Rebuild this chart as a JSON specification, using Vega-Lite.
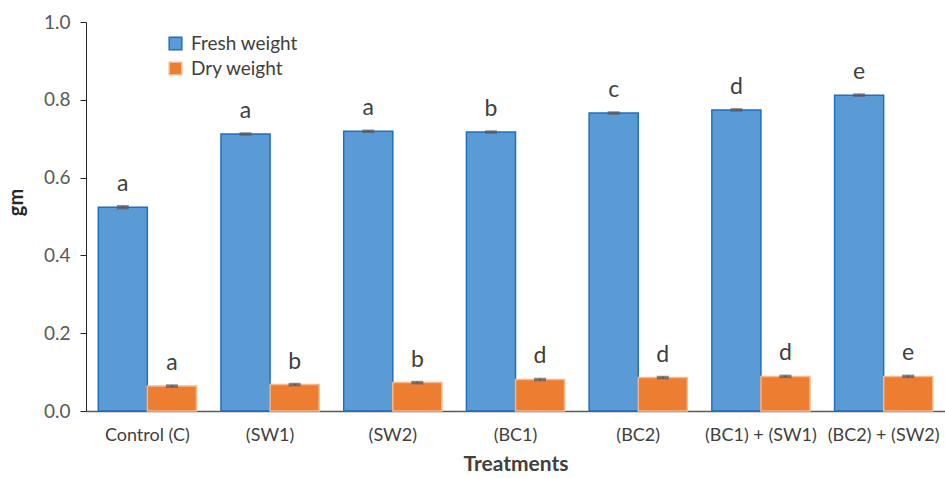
{
  "$schema": "https://vega.github.io/schema/vega-lite/v6.json",
  "width": 859,
  "height": 389,
  "autosize": {"type": "none"},
  "padding": {"left": 86, "top": 22, "right": 0, "bottom": 67},
  "background": "white",
  "config": {
    "font": "Lato",
    "view": {"stroke": null},
    "axis": {"labelFont": "Lato", "titleFont": "Lato", "labelColor": "#404040", "titleColor": "#404040"}
  },
  "data": {
    "values": [
      {"treatment": "Control (C)", "type": "Fresh weight", "value": 0.524, "low": 0.521, "high": 0.527, "letter": "a"},
      {"treatment": "Control (C)", "type": "Dry weight", "value": 0.064, "low": 0.062, "high": 0.066, "letter": "a"},
      {"treatment": "(SW1)", "type": "Fresh weight", "value": 0.712, "low": 0.710, "high": 0.714, "letter": "a"},
      {"treatment": "(SW1)", "type": "Dry weight", "value": 0.068, "low": 0.066, "high": 0.070, "letter": "b"},
      {"treatment": "(SW2)", "type": "Fresh weight", "value": 0.719, "low": 0.717, "high": 0.721, "letter": "a"},
      {"treatment": "(SW2)", "type": "Dry weight", "value": 0.073, "low": 0.071, "high": 0.075, "letter": "b"},
      {"treatment": "(BC1)", "type": "Fresh weight", "value": 0.717, "low": 0.715, "high": 0.719, "letter": "b"},
      {"treatment": "(BC1)", "type": "Dry weight", "value": 0.081, "low": 0.079, "high": 0.083, "letter": "d"},
      {"treatment": "(BC2)", "type": "Fresh weight", "value": 0.766, "low": 0.764, "high": 0.768, "letter": "c"},
      {"treatment": "(BC2)", "type": "Dry weight", "value": 0.086, "low": 0.084, "high": 0.088, "letter": "d"},
      {"treatment": "(BC1) + (SW1)", "type": "Fresh weight", "value": 0.774, "low": 0.772, "high": 0.776, "letter": "d"},
      {"treatment": "(BC1) + (SW1)", "type": "Dry weight", "value": 0.089, "low": 0.087, "high": 0.091, "letter": "d"},
      {"treatment": "(BC2) + (SW2)", "type": "Fresh weight", "value": 0.812, "low": 0.810, "high": 0.814, "letter": "e"},
      {"treatment": "(BC2) + (SW2)", "type": "Dry weight", "value": 0.089, "low": 0.087, "high": 0.091, "letter": "e"}
    ]
  },
  "encoding": {
    "x": {
      "field": "treatment", "type": "nominal",
      "sort": ["Control (C)", "(SW1)", "(SW2)", "(BC1)", "(BC2)", "(BC1) + (SW1)", "(BC2) + (SW2)"],
      "scale": {"paddingInner": 0.2, "paddingOuter": 0.1},
      "axis": {
        "title": "Treatments", "titleFontSize": 21, "titleFontWeight": "bold", "titlePadding": 9,
        "labelAngle": 0, "labelFontSize": 18, "labelPadding": 15, "ticks": false,
        "domainColor": "#595959", "domainWidth": 1.5
      }
    },
    "xOffset": {"field": "type", "type": "nominal", "sort": ["Fresh weight", "Dry weight"]}
  },
  "layer": [
    {
      "mark": {"type": "bar", "strokeWidth": 1.5},
      "encoding": {
        "y": {
          "field": "value", "type": "quantitative",
          "scale": {"domain": [0, 1]},
          "axis": {
            "title": "gm", "titleFontSize": 20, "titleFontWeight": "bold", "titleColor": "#262626",
            "titleX": -60, "titleY": 180,
            "values": [0, 0.2, 0.4, 0.6, 0.8, 1.0], "format": ".1f",
            "labelFontSize": 19, "labelColor": "#595959", "labelPadding": 10,
            "grid": false, "domainColor": "#262626", "tickColor": "#262626", "tickSize": 6
          }
        },
        "fill": {
          "field": "type", "type": "nominal", "sort": ["Fresh weight", "Dry weight"],
          "scale": {"domain": ["Fresh weight", "Dry weight"], "range": ["#5B9BD5", "#ED7D31"]},
          "legend": {
            "title": null, "orient": "none", "legendX": 80, "legendY": 12,
            "symbolType": "square", "symbolSize": 160, "labelFontSize": 19, "labelColor": "#404040",
            "rowPadding": 5, "symbolStrokeWidth": 1.5, "labelOffset": 6
          }
        },
        "stroke": {
          "field": "type", "type": "nominal", "sort": ["Fresh weight", "Dry weight"],
          "scale": {"domain": ["Fresh weight", "Dry weight"], "range": ["#1F6FC0", "#F6B98E"]},
          "legend": {
            "title": null, "orient": "none", "legendX": 80, "legendY": 12,
            "symbolType": "square", "symbolSize": 160, "labelFontSize": 19, "labelColor": "#404040",
            "rowPadding": 5, "symbolStrokeWidth": 1.5, "labelOffset": 6
          }
        }
      }
    },
    {
      "mark": {"type": "rule", "color": "#595959", "strokeWidth": 2},
      "encoding": {
        "y": {"field": "low", "type": "quantitative"},
        "y2": {"field": "high"}
      }
    },
    {
      "mark": {"type": "tick", "color": "#595959", "size": 12, "thickness": 2},
      "encoding": {"y": {"field": "low", "type": "quantitative"}}
    },
    {
      "mark": {"type": "tick", "color": "#595959", "size": 12, "thickness": 2},
      "encoding": {"y": {"field": "high", "type": "quantitative"}}
    },
    {
      "mark": {"type": "text", "fontSize": 23, "color": "#404040", "baseline": "alphabetic", "dy": -16},
      "encoding": {
        "y": {"field": "value", "type": "quantitative"},
        "text": {"field": "letter"}
      }
    }
  ]
}
